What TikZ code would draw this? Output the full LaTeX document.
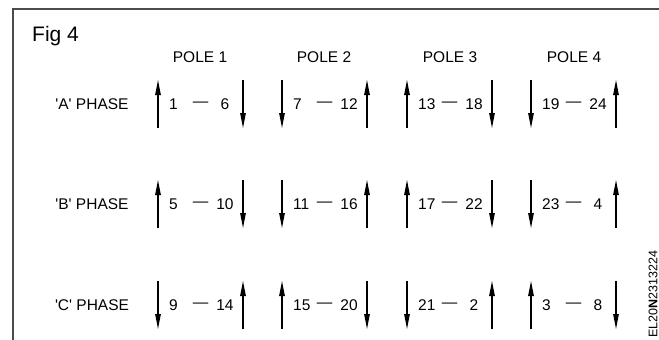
\documentclass[tikz,border=0pt]{standalone}
\usepackage{fontspec}
\setmainfont{Liberation Sans}
\usetikzlibrary{arrows.meta}
\begin{document}
\begin{tikzpicture}[x=1pt,y=-1pt,
  lbl/.style={font=\fontsize{15.5}{18}\selectfont,inner sep=0pt},
  coil/.style={line width=1.1pt,-{Triangle[length=15pt,width=5.5pt]}}]
  \useasboundingbox (0,0) rectangle (659,340);
  % Frame
  \draw[line width=1.4pt,black!70] (659,9) -- (13,9) -- (13,340);
  \node[font=\fontsize{21}{24}\selectfont,anchor=west,inner sep=0pt] (fig) at (32,36) {Fig 4};
  % Pole headings
  \foreach \x [count=\i] in {200,324,450,574}
    \node[lbl] (pole\i) at (\x,57) {POLE \i};
  % Phases: arrows and coil numbers
  \foreach \r/\y/\s/\lft/\rgt in {A/104/1/{1,7,13,19}/{6,12,18,24},
                                  B/204/1/{5,11,17,23}/{10,16,22,4},
                                  C/305/-1/{9,15,21,3}/{14,20,2,8}} {
    \node[lbl] (phase\r) at (92,\y) {\textquotesingle\r\textquotesingle{} PHASE};
    \foreach \xl/\xr/\d [count=\i] in {158/243/24,282/367/-24,407/492/24,531/616/-24} {
      \draw[coil] (\xl,\y+\s*\d) -- (\xl,\y-\s*\d);
      \draw[coil] (\xr,\y-\s*\d) -- (\xr,\y+\s*\d);
      \node[lbl] (d\r\i) at ({(\xl+\xr)/2},\y) {---};
    }
    \foreach \n [count=\i] in \lft {
      \pgfmathsetmacro\xa{{158,282,407,531}[\i-1]+11}
      \node[lbl,anchor=west] (l\r\i) at (\xa,\y) {\n};
    }
    \foreach \n [count=\i] in \rgt {
      \pgfmathsetmacro\xb{{243,367,492,616}[\i-1]-18}
      \node[lbl] (r\r\i) at (\xb,\y) {\n};
    }
  }
  % Drawing number
  \node[font=\fontsize{12.5}{14}\selectfont,rotate=90,inner sep=0pt] (code) at (653,294) {EL20\textbf{N}2313224};
\end{tikzpicture}
\end{document}
